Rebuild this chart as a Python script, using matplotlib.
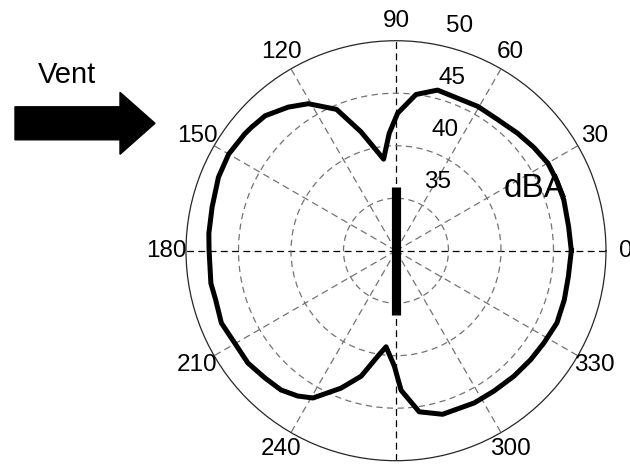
import numpy as np
import matplotlib
matplotlib.use("Agg")
import matplotlib.pyplot as plt
from matplotlib.patches import FancyArrow

plt.rcParams['font.family'] = ['Liberation Sans', 'DejaVu Sans']

# directivity curve (angle in degrees, level in dBA)
angle_deg = [0, 7.9, 16.8, 23.6, 29.9, 36.9, 44.0, 52.5, 60.4, 75.5, 82.7,
             89.3, 93.3, 97.7, 106.4, 112.8, 120.8, 126.9, 134.1, 139.5,
             142.3, 150.0, 157.5, 166.6, 174.7, 180, 190, 195.2, 202.5,
             209.8, 217.2, 224.1, 230.5, 236.0, 240.6, 248.2, 254.5, 260.2,
             264.1, 269.2, 272.1, 278.2, 285.9, 297.2, 304.9, 313.2, 321.0,
             328.0, 335.8, 343.7, 351.5, 360]
level_db = [46.7, 46.6, 46.7, 46.7, 46.7, 46.4, 46.1, 45.8, 45.8, 45.8, 45.0,
            43.1, 41.2, 38.8, 41.8, 44.6, 46.3, 47.1, 47.9, 48.1,
            48.2, 48.4, 48.3, 48.0, 47.9, 47.8, 47.9, 47.8, 48.0,
            47.7, 47.7, 47.4, 47.2, 46.7, 46.1, 44.1, 42.4, 40.2,
            39.2, 41.0, 43.3, 45.5, 46.2, 46.3, 46.3, 46.4, 46.5,
            46.6, 46.8, 46.7, 46.6, 46.7]

# source bar drawn through the centre
bar_angle = [90, 90, 270, 270]
bar_db = [36.1, 30, 30, 36.1]

r_min, r_max = 30, 50
r_rings = [35, 40, 45, 50]
theta_ticks = list(range(0, 360, 30))

fig = plt.figure(figsize=(6.3, 4.68), dpi=100)
ax = fig.add_axes([0.2952, 0.0156, 0.6667, 0.8974], projection='polar')

ax.plot(np.radians(angle_deg), level_db, color='black', lw=3.6, zorder=5,
        solid_joinstyle='round')
ax.plot(np.radians(bar_angle), bar_db, color='black', lw=6.6,
        solid_capstyle='butt', zorder=5)

ax.set_ylim(r_min, r_max)
ax.set_rgrids(r_rings[:-1], labels=[''] * 3)
ax.set_thetagrids(theta_ticks, labels=[''] * len(theta_ticks))
ax.grid(True)
for gl in ax.yaxis.get_gridlines():
    gl.set_color('0.45')
    gl.set_linewidth(0.9)
    gl.set_dashes((5, 3.5))
for t, gl in zip(theta_ticks, ax.xaxis.get_gridlines()):
    gl.set_color('black' if t % 90 == 0 else '0.45')
    gl.set_linewidth(0.9)
    gl.set_dashes((5.5, 3.5))
ax.spines['polar'].set_linewidth(0.9)
ax.spines['polar'].set_color('0.15')
ax.tick_params(length=0)

# angle labels outside the rim (270 falls below the picture in the original)
for t in theta_ticks:
    if t == 270:
        continue
    ax.text(np.radians(t), 51.85, str(t), ha='center', va='center',
            fontsize=17.5, clip_on=False)

# ring labels
for r in r_rings:
    ax.annotate(str(r), xy=(np.radians(82), r), xytext=(24.5, 12.2),
                textcoords='offset points', ha='center', va='center',
                fontsize=17.5, annotation_clip=False)

ax.text(np.radians(24.2), 44.5, 'dBA', ha='center', va='center',
        fontsize=24, zorder=6)

# wind arrow and label
fig.text(66.7 / 630, 1 - 75 / 468, 'Vent', ha='center', va='center',
         fontsize=21)
arrow = FancyArrow(0.15, 3.447, 1.40, 0, width=0.33, head_width=0.62,
                   head_length=0.35, length_includes_head=True,
                   color='black', transform=fig.dpi_scale_trans)
fig.patches.append(arrow)

fig.savefig('out.png', dpi=100)
